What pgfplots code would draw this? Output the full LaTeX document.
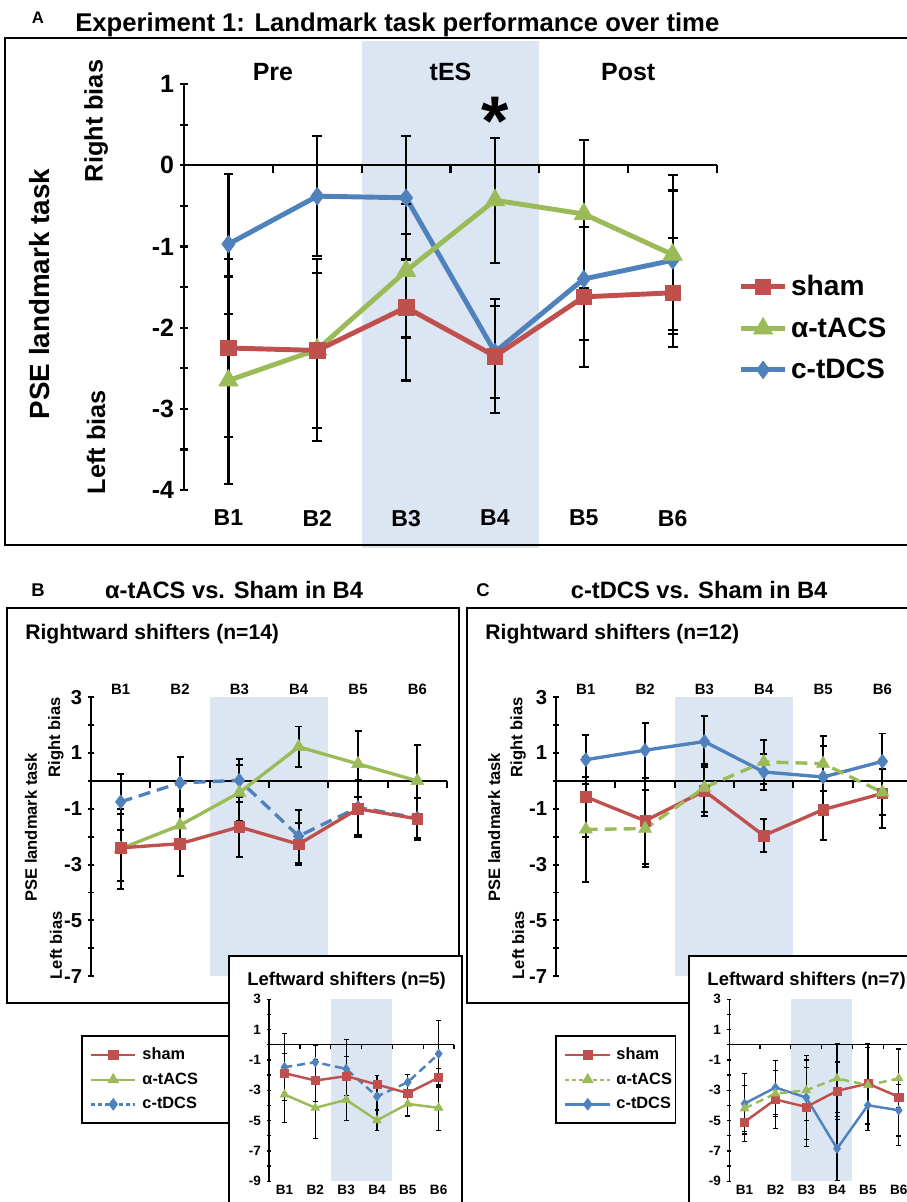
\documentclass[border=0pt]{standalone}
\usepackage{pgfplots}
\pgfplotsset{compat=1.18}
\usepackage{fontspec}
\setmainfont{Liberation Sans}
\definecolor{shamred}{HTML}{C0504D}
\definecolor{tacsgreen}{HTML}{9BBB59}
\definecolor{tdcsblue}{HTML}{4F81BD}
\definecolor{tesshade}{HTML}{DCE6F2}
\newcommand\fs[1]{\fontsize{#1}{#1}\selectfont\bfseries}

\pgfplotsset{
  blocks/.style={
    scale only axis, clip=false, anchor=south west,
    xmin=0.5, xmax=6.5,
    xtick={1,2,3,4,5,6}, xticklabels={B1,B2,B3,B4,B5,B6},
    major x tick style={draw=none},
    tick align=outside,
    minor y tick num=1,
  },
  eb/.style 2 args={
    error bars/y dir=both, error bars/y explicit,
    error bars/error bar style={solid, black, line width=#1},
    error bars/error mark options={solid, black, line width=#1, mark size=#2, rotate=90},
  },
}

\begin{document}
\begin{tikzpicture}
\useasboundingbox (0,0) rectangle (18.14cm,-24.04cm);
\begin{scope}[x=0.02cm,y=-0.02cm]
\coordinate (pA) at (184,490);
\coordinate (pB) at (91,976);
\coordinate (pC) at (556,976);
\coordinate (pBi) at (269,1181);
\coordinate (pCi) at (729,1181);
% panel A headings
\node[anchor=base] at (38,23) {\fs{9.5pt}A};
\node[anchor=base west, inner sep=0pt] at (75,31) {\fs{14.6pt}Experiment 1: Landmark task performance over time};
\node[rotate=90] at (40,294) {\fs{15.8pt}PSE landmark task};
\node[rotate=90] at (96,121) {\fs{14.4pt}Right bias};
\node[rotate=90] at (96,442) {\fs{14.4pt}Left bias};
% panel B and C headings
\node at (38,590) {\fs{10.5pt}B};
\node at (234,590) {\fs{13.5pt}α-tACS vs. Sham in B4};
\node at (483,590) {\fs{10.5pt}C};
\node at (699,590) {\fs{13.5pt}c-tDCS vs. Sham in B4};
\node[anchor=base west, inner sep=0pt] at (25,639) {\fs{12pt}Rightward shifters (n=14)};
\node[anchor=base west, inner sep=0pt] at (485,639) {\fs{12pt}Rightward shifters (n=12)};
\node[rotate=90] at (31,827) {\fs{9.4pt}PSE landmark task};
\node[rotate=90] at (56,737) {\fs{9.4pt}Right bias};
\node[rotate=90] at (56,945) {\fs{9.4pt}Left bias};
\node[rotate=90] at (494,827) {\fs{9.4pt}PSE landmark task};
\node[rotate=90] at (518,737) {\fs{9.4pt}Right bias};
\node[rotate=90] at (518,945) {\fs{9.4pt}Left bias};
\end{scope}

% ---------------- panel A ----------------
\begin{axis}[blocks, at={(pA)}, axis on top,
  width=10.66cm, height=8.12cm,
  ymin=-4, ymax=1,
  axis x line=bottom, axis y line=left,
  x axis line style={draw=none},
  y axis line style={-, line width=1.2pt},
  ytick={-4,-3,-2,-1,0,1}, yticklabels={-4,-3,-2,-1,0,1},
  ytick style={black, line width=1.2pt},
  major tick length=0.15cm, minor tick length=0.15cm,
  yticklabel style={font=\fs{14.2pt}},
  xticklabel style={font=\fs{13.1pt}, yshift=-0.2cm},
  reverse legend,
  legend style={at={(1.03,0.547)}, anchor=north west, draw=none, fill=none,
    font=\fs{16pt}, row sep=0.24cm},
  legend cell align=left,
  legend image code/.code={\draw[mark repeat=2,mark phase=2] plot coordinates {(0cm,0cm) (0.44cm,0cm) (0.88cm,0cm)};},
]
\fill[tesshade] (axis cs:2.5,1.527) rectangle (axis cs:4.5,-4.717);
\addplot[black, line width=1.2pt, forget plot] coordinates {(0.5,0) (6.5,0)};
\addplot[black, line width=1.2pt, ycomb, forget plot] coordinates {(1.5,-0.09) (2.5,-0.09) (3.5,-0.09) (4.5,-0.09) (5.5,-0.09) (6.5,-0.09)};
\addplot[tdcsblue, line width=2.8pt, mark=diamond*, mark size=5pt, mark options={line width=0.4pt}, eb={1.2pt}{2.8pt}]
  coordinates {(1,-0.97) +- (0,0.86) (2,-0.38) +- (0,0.74) (3,-0.40) +- (0,0.76)
               (4,-2.30) +- (0,0.57) (5,-1.40) +- (0,0.75) (6,-1.17) +- (0,0.86)};
\addlegendentry{c-tDCS}
\addplot[tacsgreen, line width=2.8pt, mark=triangle*, mark size=6.3pt, mark options={line width=0.4pt}, eb={1.2pt}{2.8pt}]
  coordinates {(1,-2.65) +- (0,1.28) (2,-2.27) +- (0,1.12) (3,-1.30) +- (0,0.82)
               (4,-0.43) +- (0,0.77) (5,-0.60) +- (0,0.91) (6,-1.10) +- (0,0.98)};
\addlegendentry{α-tACS}
\addplot[shamred, line width=2.8pt, mark=square*, mark size=4.4pt, mark options={line width=0.4pt}, eb={1.2pt}{2.8pt}]
  coordinates {(1,-2.25) +- (0,1.10) (2,-2.28) +- (0,0.95) (3,-1.75) +- (0,0.90)
               (4,-2.35) +- (0,0.70) (5,-1.62) +- (0,0.86) (6,-1.57) +- (0,0.67)};
\addlegendentry{sham}
\node at (axis cs:1.5,1.15) {\fs{14.2pt}Pre};
\node at (axis cs:3.5,1.15) {\fs{14.2pt}tES};
\node at (axis cs:5.5,1.15) {\fs{14.2pt}Post};
\node[anchor=base] at (axis cs:4,0.25) {\fs{40pt}*};
\end{axis}

% ---------------- panel B, rightward shifters ----------------
\begin{axis}[blocks, at={(pB)},
  width=7.12cm, height=5.58cm,
  ymin=-7, ymax=3,
  axis x line=top, axis y line=left,
  x axis line style={draw=none},
  y axis line style={-, line width=1.1pt},
  ytick={-7,-5,-3,-1,1,3}, yticklabels={-7,-5,-3,-1,1,3},
  ytick style={black, line width=1.1pt},
  major tick length=0.11cm, minor tick length=0.11cm,
  yticklabel style={font=\fs{11.5pt}},
  xticklabel style={font=\fs{8.5pt}, yshift=-0.12cm},
  legend style={at={(-0.028,-0.2115)}, anchor=north west, draw=black, line width=1.1pt,
    fill=white, font=\fs{9.3pt}, inner xsep=0.16cm, inner ysep=0.23cm,
    nodes={inner sep=0pt}, row sep=6pt, column sep=0.12cm},
  legend cell align=left,
  legend image code/.code={\draw[mark repeat=2,mark phase=2] plot coordinates {(0cm,0cm) (0.44cm,0cm) (0.88cm,0cm)};},
]
\addlegendimage{shamred, line width=1.4pt, mark=square*, mark size=2.6pt, mark options={solid, line width=0.3pt}}
\addlegendentry{\makebox[1.6cm][l]{sham}}
\addlegendimage{tacsgreen, line width=1.4pt, mark=triangle*, mark size=3.6pt, mark options={solid, line width=0.3pt}}
\addlegendentry{\makebox[1.6cm][l]{α-tACS}}
\addlegendimage{tdcsblue, line width=1.4pt, dash pattern=on 2.3pt off 1.7pt, mark=diamond*, mark size=3.4pt, mark options={solid, line width=0.3pt}}
\addlegendentry{\makebox[1.6cm][l]{c-tDCS}}
\fill[tesshade] (axis cs:2.5,3) rectangle (axis cs:4.5,-7);
\addplot[black, line width=1.1pt, forget plot] coordinates {(0.5,0) (6.5,0)};
\addplot[black, line width=1.1pt, ycomb, forget plot] coordinates {(1.5,-0.27) (2.5,-0.27) (3.5,-0.27) (4.5,-0.27) (5.5,-0.27) (6.5,-0.27)};
\addplot[tdcsblue, line width=1.9pt, dash pattern=on 6.8pt off 4pt, mark=diamond*, mark size=4pt, mark options={solid, line width=0.3pt}, eb={1.1pt}{2pt}, forget plot]
  coordinates {(1,-0.75) +- (0,1.00) (2,-0.07) +- (0,0.93) (3,0.02) +- (0,0.78)
               (4,-1.98) +- (0,0.95) (5,-0.95) +- (0,1.00) (6,-1.33) +- (0,0.70)};
\addplot[tacsgreen, line width=1.9pt, mark=triangle*, mark size=4.3pt, mark options={line width=0.3pt}, eb={1.1pt}{2pt}, forget plot]
  coordinates {(1,-2.43) +- (0,1.43) (2,-1.59) +- (0,0.55) (3,-0.42) +- (0,1.00)
               (4,1.22) +- (0,0.73) (5,0.61) +- (0,1.18) (6,0.00) +- (0,1.28)};
\addplot[shamred, line width=1.9pt, mark=square*, mark size=3pt, mark options={line width=0.3pt}, eb={1.1pt}{2pt}, forget plot]
  coordinates {(1,-2.40) +- (0,1.20) (2,-2.25) +- (0,1.17) (3,-1.65) +- (0,1.07)
               (4,-2.27) +- (0,0.75) (5,-1.00) +- (0,1.00) (6,-1.36) +- (0,0.75)};
\end{axis}

% ---------------- panel C, rightward shifters ----------------
\begin{axis}[blocks, at={(pC)},
  width=7.12cm, height=5.58cm,
  ymin=-7, ymax=3,
  axis x line=top, axis y line=left,
  x axis line style={draw=none},
  y axis line style={-, line width=1.1pt},
  ytick={-7,-5,-3,-1,1,3}, yticklabels={-7,-5,-3,-1,1,3},
  ytick style={black, line width=1.1pt},
  major tick length=0.11cm, minor tick length=0.11cm,
  yticklabel style={font=\fs{11.5pt}},
  xticklabel style={font=\fs{8.5pt}, yshift=-0.12cm},
  legend style={at={(-0.003,-0.2115)}, anchor=north west, draw=black, line width=1.1pt,
    fill=white, font=\fs{9.3pt}, inner xsep=0.16cm, inner ysep=0.23cm,
    nodes={inner sep=0pt}, row sep=6pt, column sep=0.1cm},
  legend cell align=left,
  legend image code/.code={\draw[mark repeat=2,mark phase=2] plot coordinates {(0cm,0cm) (0.45cm,0cm) (0.9cm,0cm)};},
]
\addlegendimage{shamred, line width=1.4pt, mark=square*, mark size=2.6pt, mark options={solid, line width=0.3pt}}
\addlegendentry{\makebox[1.02cm][l]{sham}}
\addlegendimage{tacsgreen, line width=1.4pt, dash pattern=on 2.3pt off 1.7pt, mark=triangle*, mark size=3.6pt, mark options={solid, line width=0.3pt}}
\addlegendentry{\makebox[1.02cm][l]{α-tACS}}
\addlegendimage{tdcsblue, line width=1.4pt, mark=diamond*, mark size=3.4pt, mark options={solid, line width=0.3pt}}
\addlegendentry{\makebox[1.02cm][l]{c-tDCS}}
\fill[tesshade] (axis cs:2.5,3) rectangle (axis cs:4.5,-7);
\addplot[black, line width=1.1pt, forget plot] coordinates {(0.5,0) (6.5,0)};
\addplot[black, line width=1.1pt, ycomb, forget plot] coordinates {(1.5,-0.27) (2.5,-0.27) (3.5,-0.27) (4.5,-0.27) (5.5,-0.27) (6.5,-0.27)};
\addplot[tdcsblue, line width=1.9pt, mark=diamond*, mark size=4pt, mark options={line width=0.3pt}, eb={1.1pt}{2pt}, forget plot]
  coordinates {(1,0.76) +- (0,0.88) (2,1.10) +- (0,0.98) (3,1.41) +- (0,0.91)
               (4,0.32) +- (0,0.63) (5,0.14) +- (0,1.11) (6,0.70) +- (0,1.00)};
\addplot[shamred, line width=1.9pt, mark=square*, mark size=3pt, mark options={line width=0.3pt}, eb={1.1pt}{2pt}, forget plot]
  coordinates {(1,-0.57) +- (0,1.43) (2,-1.43) +- (0,1.55) (3,-0.36) +- (0,0.90)
               (4,-1.96) +- (0,0.60) (5,-1.03) +- (0,1.10) (6,-0.45) +- (0,1.23)};
\addplot[tacsgreen, line width=1.9pt, dash pattern=on 6.8pt off 4pt, mark=triangle*, mark size=4.3pt, mark options={solid, line width=0.3pt}, eb={1.1pt}{2pt}, forget plot]
  coordinates {(1,-1.74) +- (0,1.88) (2,-1.71) +- (0,1.37) (3,-0.24) +- (0,0.86)
               (4,0.68) +- (0,0.78) (5,0.62) +- (0,0.98) (6,-0.41) +- (0,0.82)};
\end{axis}

% ---------------- frames and inset boxes ----------------
\begin{scope}[x=0.02cm,y=-0.02cm]
\draw[line width=1.1pt] (930,38) -- (5,38) -- (5,545) -- (930,545);
\draw[line width=1.1pt] (7,608) rectangle (459,1003);
\draw[line width=1.1pt] (930,608) -- (467,608) -- (467,1003) -- (930,1003);
\draw[line width=1.1pt, fill=white] (229,1230) -- (229,956) -- (462,956) -- (462,1230);
\draw[line width=1.1pt, fill=white] (689,1230) -- (689,956) -- (930,956) -- (930,1230);
\node[anchor=base west, inner sep=0pt] at (247,985) {\fs{10.5pt}Leftward shifters (n=5)};
\node[anchor=base west, inner sep=0pt] at (707,985) {\fs{10.5pt}Leftward shifters (n=7)};
\end{scope}

% ---------------- panel B, leftward shifters ----------------
\begin{axis}[blocks, at={(pBi)},
  width=3.70cm, height=3.64cm,
  ymin=-9, ymax=3,
  axis x line=bottom, axis y line=left,
  x axis line style={draw=none},
  y axis line style={-, line width=0.7pt},
  ytick={-9,-7,-5,-3,-1,1,3}, yticklabels={-9,-7,-5,-3,-1,1,3},
  ytick style={black, line width=0.7pt},
  major tick length=0.08cm, minor tick length=0.08cm,
  yticklabel style={font=\fs{7.7pt}},
  xticklabel style={font=\fs{7.7pt}, yshift=0.08cm},
]
\fill[tesshade] (axis cs:2.5,3) rectangle (axis cs:4.5,-9);
\addplot[black, line width=0.7pt] coordinates {(0.5,0) (6.5,0)};
\addplot[black, line width=0.7pt, ycomb] coordinates {(1.5,-0.26) (2.5,-0.26) (3.5,-0.26) (4.5,-0.26) (5.5,-0.26) (6.5,-0.26)};
\addplot[tdcsblue, line width=1.4pt, dash pattern=on 4.5pt off 2.8pt, mark=diamond*, mark size=2.7pt, mark options={solid, line width=0.3pt}, eb={0.7pt}{1.4pt}]
  coordinates {(1,-1.48) +- (0,2.20) (2,-1.15) +- (0,1.10) (3,-1.59) +- (0,1.95)
               (4,-3.41) +- (0,0.85) (5,-2.47) +- (0,0.50) (6,-0.60) +- (0,2.20)};
\addplot[tacsgreen, line width=1.4pt, mark=triangle*, mark size=2.9pt, mark options={line width=0.3pt}, eb={0.7pt}{1.4pt}]
  coordinates {(1,-3.28) +- (0,1.87) (2,-4.16) +- (0,2.00) (3,-3.63) +- (0,1.37)
               (4,-4.98) +- (0,0.68) (5,-3.90) +- (0,0.80) (6,-4.16) +- (0,1.50)};
\addplot[shamred, line width=1.4pt, mark=square*, mark size=2.3pt, mark options={line width=0.3pt}, eb={0.7pt}{1.4pt}]
  coordinates {(1,-1.87) +- (0,1.30) (2,-2.36) +- (0,1.40) (3,-2.07) +- (0,1.30)
               (4,-2.62) +- (0,0.60) (5,-3.19) +- (0,0.70) (6,-2.16) +- (0,0.60)};
\end{axis}

% ---------------- panel C, leftward shifters ----------------
\begin{axis}[blocks, at={(pCi)},
  width=3.70cm, height=3.64cm,
  ymin=-9, ymax=3,
  axis x line=bottom, axis y line=left,
  x axis line style={draw=none},
  y axis line style={-, line width=0.7pt},
  ytick={-9,-7,-5,-3,-1,1,3}, yticklabels={-9,-7,-5,-3,-1,1,3},
  ytick style={black, line width=0.7pt},
  major tick length=0.08cm, minor tick length=0.08cm,
  yticklabel style={font=\fs{7.7pt}},
  xticklabel style={font=\fs{7.7pt}, yshift=0.08cm},
]
\fill[tesshade] (axis cs:2.5,3) rectangle (axis cs:4.5,-9);
\addplot[black, line width=0.7pt] coordinates {(0.5,0) (6.5,0)};
\addplot[black, line width=0.7pt, ycomb] coordinates {(1.5,-0.26) (2.5,-0.26) (3.5,-0.26) (4.5,-0.26) (5.5,-0.26) (6.5,-0.26)};
\addplot[tdcsblue, line width=1.4pt, mark=diamond*, mark size=2.7pt, mark options={line width=0.3pt}, eb={0.7pt}{1.4pt}]
  coordinates {(1,-3.88) +- (0,2.00) (2,-2.82) +- (0,1.76) (3,-3.48) +- (0,2.75)
               (4,-6.85) +- (0,2.10) (5,-3.99) +- (0,1.65) (6,-4.32) +- (0,1.70)};
\addplot[shamred, line width=1.4pt, mark=square*, mark size=2.3pt, mark options={line width=0.3pt}, eb={0.7pt}{1.4pt}]
  coordinates {(1,-5.09) +- (0,1.30) (2,-3.61) +- (0,1.90) (3,-4.10) +- (0,2.60)
               (4,-3.04) +- (0,1.90) (5,-2.56) +- (0,2.66) (6,-3.44) +- (0,3.20)};
\addplot[tacsgreen, line width=1.4pt, dash pattern=on 4.5pt off 2.8pt, mark=triangle*, mark size=2.9pt, mark options={solid, line width=0.3pt}, eb={0.7pt}{1.4pt}]
  coordinates {(1,-4.20) +- (0,1.50) (2,-3.22) +- (0,1.50) (3,-3.00) +- (0,2.00)
               (4,-2.22) +- (0,2.27) (5,-2.67) +- (0,2.50) (6,-2.22) +- (0,1.90)};
\end{axis}
\end{tikzpicture}
\end{document}
